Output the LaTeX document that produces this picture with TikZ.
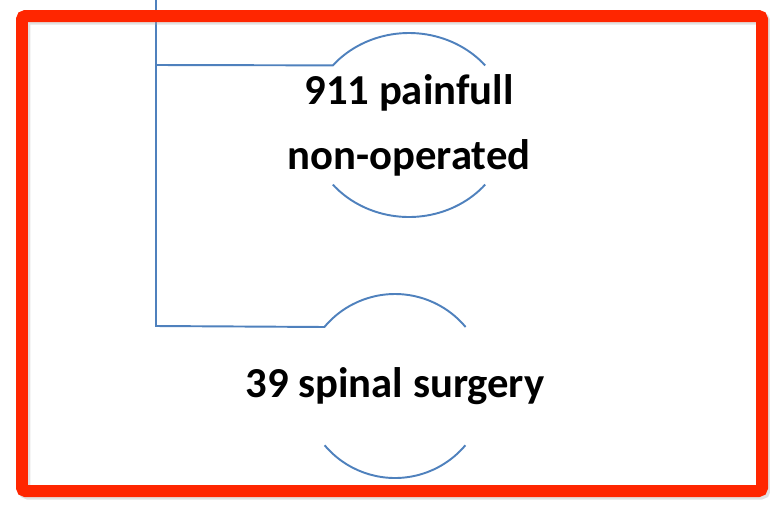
\documentclass[tikz,border=0pt]{standalone}
\usepackage{fontspec}
\setmainfont{Carlito}
\usepackage{xcolor}
\usepackage{tikz}
\usetikzlibrary{positioning, calc}
\definecolor{officeblue}{RGB}{79,129,189}
\definecolor{framered}{RGB}{255,38,0}
\definecolor{shadowgray}{RGB}{170,170,170}
\tikzset{
    branch/.style={
        draw=officeblue,
        line width=1.1pt
    },
    frame/.style={
        draw=framered,
        rounded corners=2pt,
        line width=0.24cm
    },
    groupnode/.style={
        align=center,
        font=\bfseries\fontsize{24.3}{37}\selectfont,
        inner sep=0pt
    }
}

\begin{document}
\begin{tikzpicture}[x=0.02cm, y=-0.02cm]
    \useasboundingbox (0,0) rectangle (770,505);

    % Group nodes
    \node[groupnode] (pain) at (409,125) {911 painfull\\non-operated};
    \node[groupnode] (spine) at (395,386) {39 spinal surgery};

    % Trunk and fork points
    \coordinate (trunk) at (156,0);
    \coordinate (fork) at (156,65);
    \coordinate (corner) at (156,326);

    % Branches ending in arcs
    \draw[branch] (trunk) -- (corner)
        -- ([shift={(219.9:92 and 92)}]spine.center)
        arc[start angle=219.9, end angle=320.1, x radius=92, y radius=92];
    \draw[branch] ([shift={(139.9:92 and 92)}]spine.center)
        arc[start angle=139.9, end angle=40.1, x radius=92, y radius=92];
    \draw[branch] (fork)
        -- ([shift={(220.4:100 and 92)}]pain.center)
        arc[start angle=220.4, end angle=319.6, x radius=100, y radius=92];
    \draw[branch] ([shift={(139.6:100 and 92)}]pain.center)
        arc[start angle=139.6, end angle=40.4, x radius=100, y radius=92];

    % Frame with shadow
    \draw[frame, draw=shadowgray, opacity=0.35] (24.5,18.5) rectangle (764.5,493.5);
    \draw[frame] (22,16) rectangle (762,491);
\end{tikzpicture}
\end{document}
